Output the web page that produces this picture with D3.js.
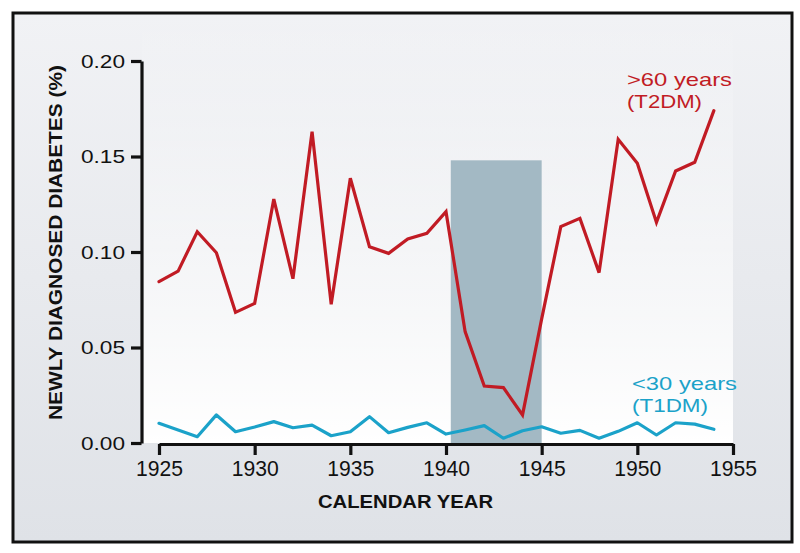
<!DOCTYPE html>
<html>
<head>
<meta charset="utf-8">
<script src="https://cdn.jsdelivr.net/npm/d3@7"></script>
<style>
  html, body { margin: 0; padding: 0; background: #ffffff; }
  svg { display: block; }
  text { font-family: "Liberation Sans", Arial, Helvetica, sans-serif; }
</style>
</head>
<body>
<svg id="chart" width="800" height="553"></svg>
<script>
// ---- data ----
const years = [1925,1926,1927,1928,1929,1930,1931,1932,1933,1934,1935,1936,1937,1938,1939,
               1940,1941,1942,1943,1944,1945,1946,1947,1948,1949,1950,1951,1952,1953,1954];
const t2dm = [0.0845,0.0900,0.1106,0.0996,0.0684,0.0731,0.1277,0.0860,0.1630,0.0726,
              0.1386,0.1028,0.0993,0.1068,0.1098,0.1211,0.0583,0.0298,0.0290,0.0147,
              0.0650,0.1133,0.1176,0.0892,0.1590,0.1464,0.1155,0.1424,0.1470,0.1740];
const t1dm = [0.0103,0.0068,0.0033,0.0147,0.0059,0.0084,0.0112,0.0080,0.0094,0.0038,
              0.0059,0.0138,0.0054,0.0082,0.0106,0.0047,0.0068,0.0091,0.0025,0.0064,
              0.0085,0.0051,0.0066,0.0025,0.0061,0.0106,0.0042,0.0106,0.0099,0.0072];
const xTicks = [1925,1930,1935,1940,1945,1950,1955];
const yTicks = [0,0.05,0.10,0.15,0.20];
const band = [1940.25, 1945];   // war years shading (x extent)
const bandTop = 0.148;
const seriesLabels = [
  {lines: [">60 years", "(T2DM)"], color: "#c11b24"},
  {lines: ["<30 years", "(T1DM)"], color: "#1ba2c9"}
];

// ---- setup ----
const svg = d3.select("#chart");
const x = d3.scaleLinear().domain([1925,1955]).range([159,733]);
const y = d3.scaleLinear().domain([0,0.2]).range([443,61]);

const defs = svg.append("defs");
const bgGrad = defs.append("linearGradient").attr("id","bgGrad")
  .attr("x1",0).attr("y1",0).attr("x2",0).attr("y2",1);
bgGrad.append("stop").attr("offset","0%").attr("stop-color","#f1f2f5");
bgGrad.append("stop").attr("offset","100%").attr("stop-color","#dfe2e7");
const plotGrad = defs.append("linearGradient").attr("id","plotGrad")
  .attr("x1",0).attr("y1",0).attr("x2",0).attr("y2",1);
plotGrad.append("stop").attr("offset","0%").attr("stop-color","#ffffff").attr("stop-opacity",0);
plotGrad.append("stop").attr("offset","25%").attr("stop-color","#ffffff").attr("stop-opacity",0.2);
plotGrad.append("stop").attr("offset","100%").attr("stop-color","#ffffff").attr("stop-opacity",1);

// background
svg.append("rect").attr("x",13).attr("y",13).attr("width",779).attr("height",529)
  .attr("fill","url(#bgGrad)");
svg.append("rect").attr("x",142).attr("y",13).attr("width",x(1955)-142).attr("height",y(0)-13)
  .attr("fill","url(#plotGrad)");

// shaded band
svg.append("rect")
  .attr("x", x(band[0])).attr("y", y(bandTop))
  .attr("width", x(band[1]) - x(band[0])).attr("height", y(0) - y(bandTop))
  .attr("fill","#a3b9c4");

// lines
const line = d3.line().x((d,i)=>x(years[i])).y(d=>y(d));
svg.append("path").datum(t1dm).attr("d", line)
  .attr("fill","none").attr("stroke","#1ba2c9").attr("stroke-width",3.2)
  .attr("stroke-linejoin","round").attr("stroke-linecap","round");
svg.append("path").datum(t2dm).attr("d", line)
  .attr("fill","none").attr("stroke","#c11b24").attr("stroke-width",3.2)
  .attr("stroke-linejoin","miter").attr("stroke-linecap","round");

// y axis
const yAxis = svg.append("g").attr("transform","translate(141.5,0)")
  .call(d3.axisLeft(y).tickValues(yTicks).tickFormat(d3.format(".2f"))
        .tickSize(10.5).tickSizeOuter(0).tickPadding(6));
yAxis.select(".domain").attr("stroke","#111").attr("stroke-width",3.2);
yAxis.selectAll(".tick line").attr("stroke","#111").attr("stroke-width",3.2);
yAxis.selectAll(".tick text").attr("fill","#111")
  .style("font-size","19px").style("font-family",'"Liberation Sans", Arial, sans-serif')
  .attr("textLength",44).attr("lengthAdjust","spacingAndGlyphs");

// x axis
const xAxis = svg.append("g").attr("transform","translate(0,444)")
  .call(d3.axisBottom(x).tickValues(xTicks).tickFormat(d3.format("d"))
        .tickSize(11).tickSizeOuter(0).tickPadding(6));
xAxis.select(".domain").attr("stroke","#111").attr("stroke-width",3.2);
xAxis.selectAll(".tick line").attr("stroke","#111").attr("stroke-width",3.2);
xAxis.selectAll(".tick text").attr("fill","#111")
  .style("font-size","21.5px").style("font-family",'"Liberation Sans", Arial, sans-serif')
  .attr("textLength",47).attr("lengthAdjust","spacingAndGlyphs");

// axis titles
svg.append("text").attr("x",405.5).attr("y",508)
  .attr("text-anchor","middle").attr("font-weight","bold").attr("font-size",18.8)
  .attr("fill","#111").attr("textLength",175).attr("lengthAdjust","spacingAndGlyphs")
  .text("CALENDAR YEAR");
svg.append("text").attr("transform","translate(62,242.5) rotate(-90)")
  .attr("text-anchor","middle").attr("font-weight","bold").attr("font-size",19)
  .attr("fill","#111").attr("textLength",355).attr("lengthAdjust","spacingAndGlyphs")
  .text("NEWLY DIAGNOSED DIABETES (%)");

// series labels
const labelPos = [
  {x: 627, y: [86, 108], w: [105, 75]},
  {x: 632, y: [390, 412], w: [105, 76]}
];
seriesLabels.forEach((s, k) => {
  s.lines.forEach((t, j) => {
    svg.append("text").attr("x", labelPos[k].x).attr("y", labelPos[k].y[j])
      .attr("font-size", 19).attr("fill", s.color)
      .attr("textLength", labelPos[k].w[j]).attr("lengthAdjust","spacingAndGlyphs")
      .text(t);
  });
});

// frame
svg.append("rect").attr("x",13).attr("y",13).attr("width",779).attr("height",529)
  .attr("fill","none").attr("stroke","#111").attr("stroke-width",3);
</script>
</body>
</html>
